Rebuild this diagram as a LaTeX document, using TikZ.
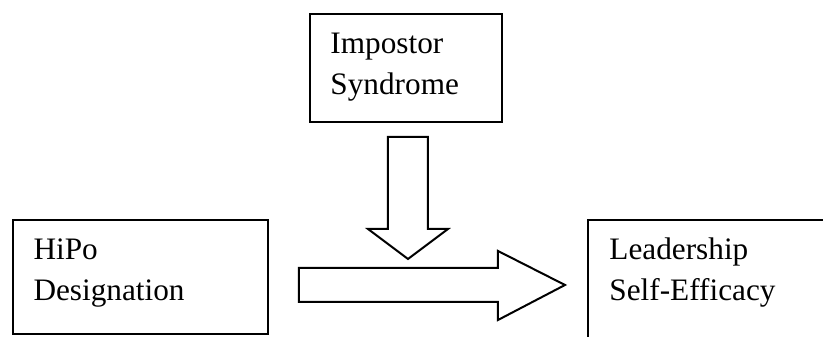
\documentclass[tikz,border=0pt]{standalone}
\usepackage{fontspec}
\setmainfont{Liberation Serif}
\usetikzlibrary{calc}
\tikzset{
	box/.style={draw, line width=0.8pt, inner sep=0pt, anchor=north west},
	boxtext/.style={anchor=base west, inner sep=0pt, align=left,
		font=\fontsize{12.5pt}{16.4pt}\selectfont},
	blockarrow/.style={draw, line width=0.8pt, line join=miter, fill=white}
}
\begin{document}
\begin{tikzpicture}[x=0.4pt, y=-0.4pt]
			%%%%% START %%%%%
			\clip (0, 0) rectangle (823, 337);
			\fill[white] (0, 0) rectangle (823, 337);
			
			\node[box, minimum width=76.8pt, minimum height=43.2pt] (imp) at (309, 13) {};
			\node[boxtext] (imptext) at ($(imp.north west)+(21, 82)$) {Impostor\\Syndrome};
			
			\node[box, minimum width=102pt, minimum height=45.6pt] (hipo) at (12, 219) {};
			\node[boxtext] (hipotext) at ($(hipo.north west)+(21, 82)$) {HiPo\\Designation};
			
			\node[box, minimum width=120pt, minimum height=60pt] (lse) at (587, 219) {};
			\node[boxtext] (lsetext) at ($(lse.north west)+(22, 82)$) {Leadership\\Self-Efficacy};
			
			\draw[blockarrow] (388, 137) -- (428, 137) -- (428, 229) -- (448, 229)
				-- (408, 259) -- (368, 229) -- (388, 229) -- cycle;
			
			\draw[blockarrow] (299, 268) -- (498, 268) -- (498, 251) -- (565, 285)
				-- (498, 320) -- (498, 302) -- (299, 302) -- cycle;
			%%%%% END %%%%%
\end{tikzpicture}
\end{document}
